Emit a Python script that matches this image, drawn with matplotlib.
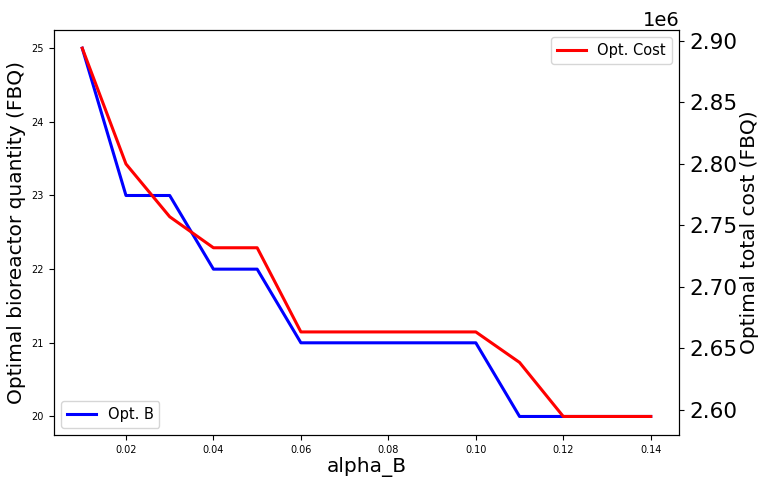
import numpy as np
import matplotlib
matplotlib.use("Agg")
import matplotlib.pyplot as plt

# data
alpha_b = [0.01, 0.02, 0.03, 0.04, 0.05, 0.06, 0.07, 0.08, 0.09, 0.10, 0.11, 0.12, 0.13, 0.14]
opt_b = [25, 23, 23, 22, 22, 21, 21, 21, 21, 21, 20, 20, 20, 20]
opt_cost = [2.8938e6, 2.7997e6, 2.7568e6, 2.7316e6, 2.7316e6, 2.6632e6, 2.6632e6,
            2.6632e6, 2.6632e6, 2.6632e6, 2.6384e6, 2.5945e6, 2.5945e6, 2.5945e6]

fig, ax1 = plt.subplots(figsize=(7.58, 4.8), dpi=100)
fig.subplots_adjust(left=0.071, right=0.896, bottom=0.094, top=0.938)

ax1.plot(alpha_b, opt_b, color="blue", linewidth=2.2, label="Opt. B")
ax1.set_xlabel("alpha_B", fontsize=14.5, labelpad=2)
ax1.set_ylabel("Optimal bioreactor quantity (FBQ)", fontsize=14.5)
ax1.tick_params(axis="both", labelsize=7)
ax1.legend(loc="lower left", fontsize=10.5)

ax2 = ax1.twinx()
ax2.plot(alpha_b, opt_cost, color="red", linewidth=2.2, label="Opt. Cost")
ax2.set_ylabel("Optimal total cost (FBQ)", fontsize=14.5, labelpad=2)
ax2.tick_params(axis="y", labelsize=15.5)
ax2.yaxis.get_offset_text().set_fontsize(14)
ax2.legend(loc="upper right", fontsize=10.5)

plt.savefig("out.png")
